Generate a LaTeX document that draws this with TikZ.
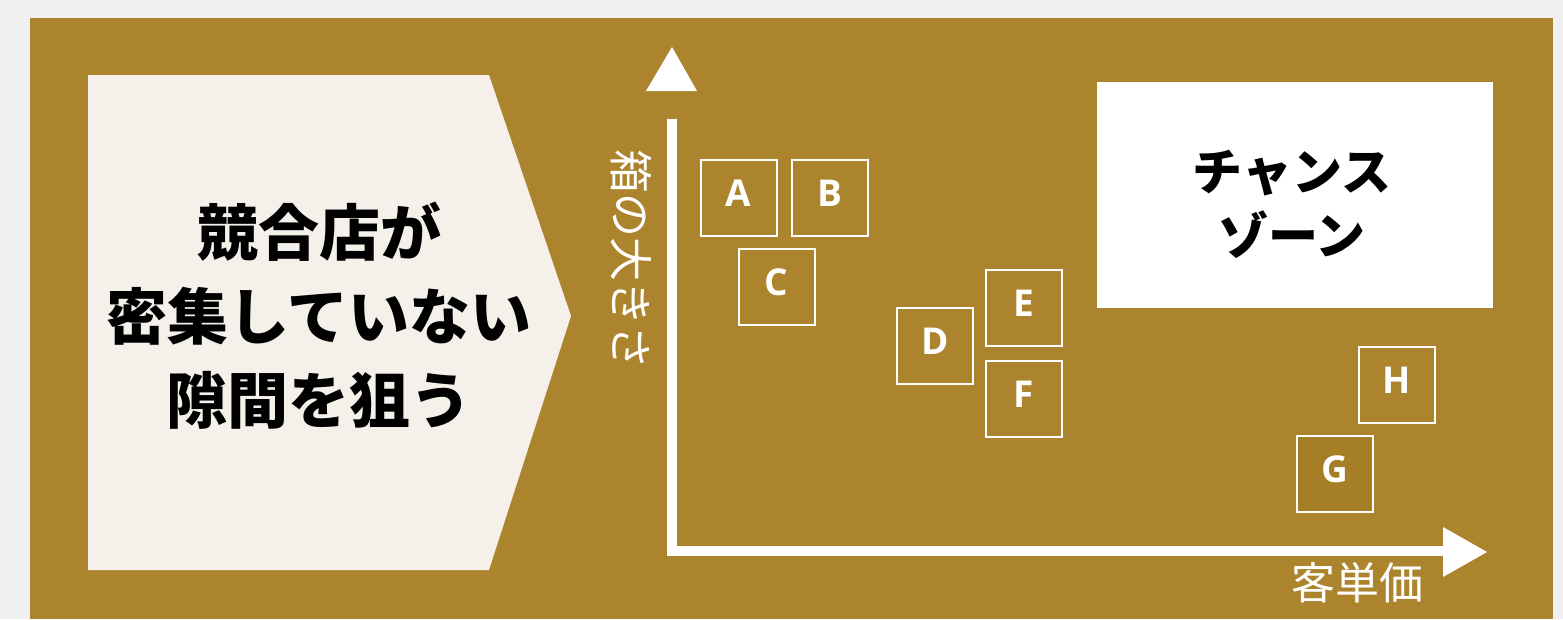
\documentclass[tikz,border=0pt]{standalone}
\usepackage{fontspec}
\setmainfont{Open Sans}
\newfontfamily\jp{Noto Sans CJK JP}
\definecolor{pagebg}{HTML}{F1F0F0}
\definecolor{gold}{HTML}{AC842E}
\definecolor{golddark}{HTML}{A67E26}
\definecolor{cream}{HTML}{F5F1EA}
\tikzset{
  item/.style={draw=white, line width=2pt, minimum width=76pt, minimum height=76pt, inner sep=0pt,
    text=white, font=\fontsize{37}{40}\selectfont\bfseries},
  itemlabel/.style={inner sep=0pt, text=white, font=\fontsize{37}{40}\selectfont\bfseries},
  axisline/.style={draw=white, line width=10pt},
  tip/.style={fill=white, draw=none},
}
\begin{document}
\begin{tikzpicture}[x=1pt, y=-1pt]
\useasboundingbox (0,0) rectangle (1563,619);
\fill[pagebg] (0,0) rectangle (1563,619);
\fill[gold] (30,18) rectangle (1553,619);
% left pentagon
\fill[cream] (88,75) -- (489,75) -- (571,316) -- (489,570) -- (88,570) -- cycle;
\node[inner sep=0pt, align=center, font=\jp\bfseries\fontsize{61}{84}\selectfont] (msg) at (319,316)
  {競合店が\\密集していない\\隙間を狙う};
% chance zone
\node[fill=white, minimum width=396pt, minimum height=226pt, inner sep=0pt] (zone) at (1295,195) {};
\node[inner sep=0pt, align=center, font=\jp\bfseries\fontsize{50}{64}\selectfont] (zonetext) at (1292,204)
  {チャンス\\ゾーン};
% axes
\coordinate (ytop) at (672,119);
\coordinate (origin) at (672,551);
\coordinate (xend) at (1445,551);
\draw[axisline] (ytop) -- (origin) -- (xend);
\fill[tip] (646,91) -- (697,91) -- (672,47) -- cycle;
\fill[tip] (1443,527) -- (1443,577) -- (1487,552) -- cycle;
\node[inner sep=0pt, text=white, rotate=-90, font=\jp\fontsize{44}{44}\selectfont] (ylab) at (631,259) {箱の大きさ};
\node[inner sep=0pt, text=white, font=\jp\fontsize{44}{44}\selectfont] (xlab) at (1357,583) {客単価};
% items
\node[item] (A) at (738.5,198) {};
\node[item] (B) at (829.5,198) {};
\node[item] (C) at (776.5,287) {};
\node[item] (D) at (935,346) {};
\node[item] (E) at (1024,308) {};
\node[item] (F) at (1024,399) {};
\node[item] (H) at (1396.5,385) {};
\node[item, fill=golddark] (G) at (1335,474) {};
\foreach \n in {A,B,C,D,E,F,G,H}
  \node[itemlabel] (\n-label) at ([yshift=5pt]\n.center) {\n};
\end{tikzpicture}
\end{document}
